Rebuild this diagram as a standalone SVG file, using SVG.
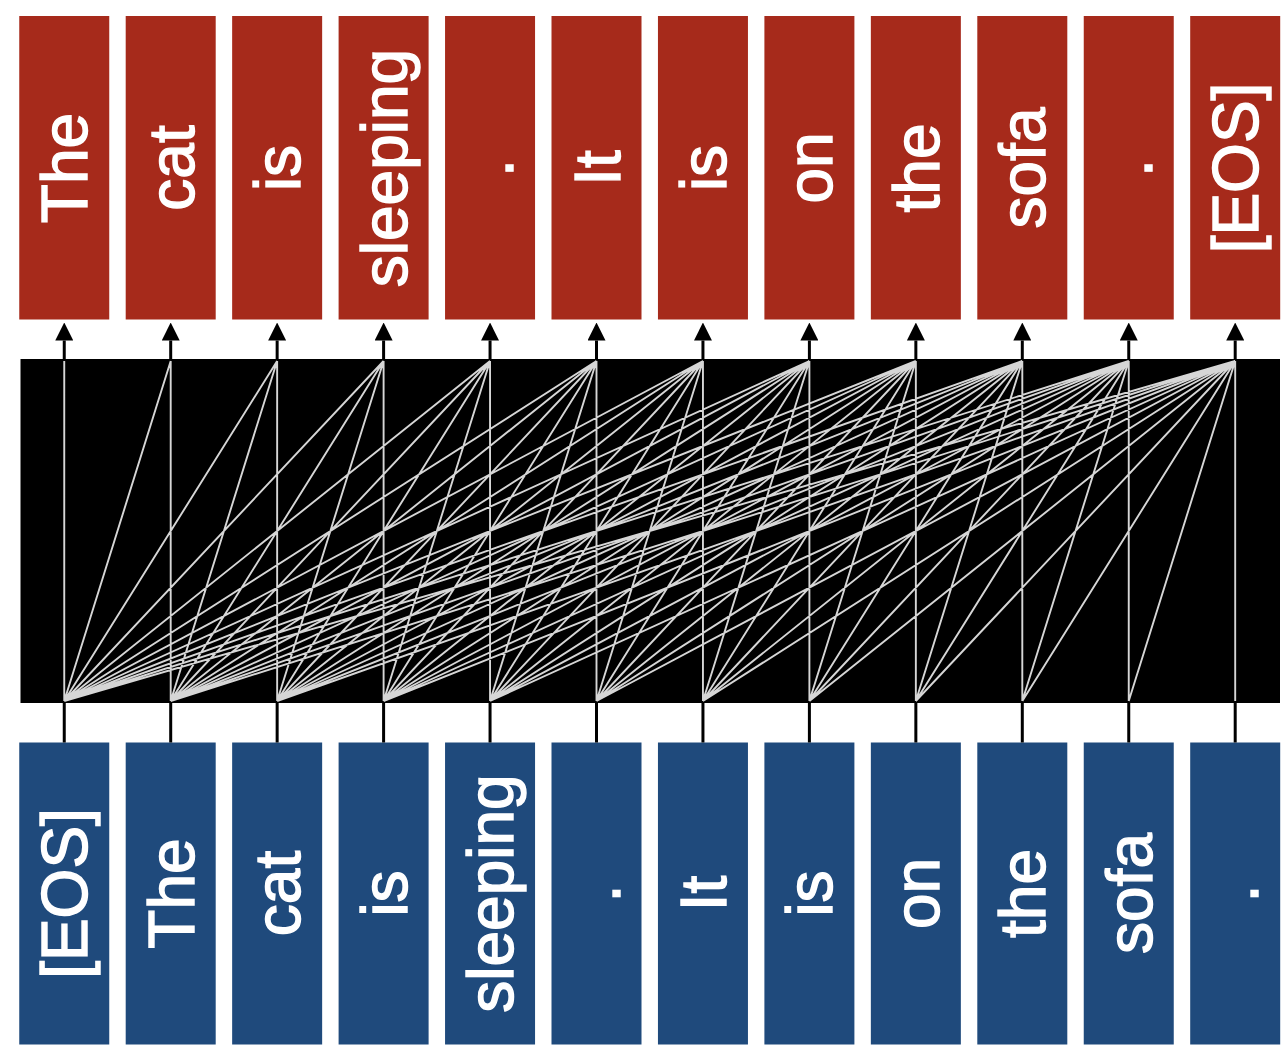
<svg xmlns="http://www.w3.org/2000/svg" width="1288" height="1053" viewBox="0 0 1288 1053">
<style>
.out{fill:#a62a1b}
.in{fill:#1f4a7c}
.lbl{font-family:"Liberation Sans",Arial,Helvetica,sans-serif;font-size:64px;fill:#ffffff;stroke:#ffffff;stroke-width:1.4;text-anchor:middle}
.att{stroke:#d6d6d6;stroke-width:1.9;fill:none}
.stub{stroke:#000000;stroke-width:3;fill:none}
.arr{stroke:#000000;stroke-width:3;fill:none;marker-end:url(#ah)}
</style>
<defs>
<marker id="ah" markerUnits="userSpaceOnUse" markerWidth="18" markerHeight="18" viewBox="0 0 18 18" refX="0" refY="9" orient="auto">
<path d="M0,0 L18,9 L0,18 Z" fill="#000000"/>
</marker>
</defs>
<rect width="1288" height="1053" fill="#ffffff"/>

<g id="outputs">
<g id="out0"><rect class="out" x="19.25" y="16" width="90" height="303.5"/><text class="lbl" transform="translate(87.25,168) rotate(-90)">The</text></g>
<g id="out1"><rect class="out" x="125.7" y="16" width="90" height="303.5"/><text class="lbl" transform="translate(193.7,168) rotate(-90)">cat</text></g>
<g id="out2"><rect class="out" x="232.15" y="16" width="90" height="303.5"/><text class="lbl" transform="translate(300.15,168) rotate(-90)">is</text></g>
<g id="out3"><rect class="out" x="338.6" y="16" width="90" height="303.5"/><text class="lbl" transform="translate(406.6,168) rotate(-90)">sleeping</text></g>
<g id="out4"><rect class="out" x="445.05" y="16" width="90" height="303.5"/><text class="lbl" transform="translate(513.05,168) rotate(-90)">.</text></g>
<g id="out5"><rect class="out" x="551.5" y="16" width="90" height="303.5"/><text class="lbl" transform="translate(619.5,168) rotate(-90)">It</text></g>
<g id="out6"><rect class="out" x="657.95" y="16" width="90" height="303.5"/><text class="lbl" transform="translate(725.95,168) rotate(-90)">is</text></g>
<g id="out7"><rect class="out" x="764.4" y="16" width="90" height="303.5"/><text class="lbl" transform="translate(832.4,168) rotate(-90)">on</text></g>
<g id="out8"><rect class="out" x="870.85" y="16" width="90" height="303.5"/><text class="lbl" transform="translate(938.85,168) rotate(-90)">the</text></g>
<g id="out9"><rect class="out" x="977.3" y="16" width="90" height="303.5"/><text class="lbl" transform="translate(1045.3,168) rotate(-90)">sofa</text></g>
<g id="out10"><rect class="out" x="1083.75" y="16" width="90" height="303.5"/><text class="lbl" transform="translate(1151.75,168) rotate(-90)">.</text></g>
<g id="out11"><rect class="out" x="1190.2" y="16" width="90" height="303.5"/><text class="lbl" transform="translate(1258.2,168) rotate(-90)">[EOS]</text></g>
</g>

<g id="inputs">
<g id="in0"><rect class="in" x="19.25" y="742.5" width="90" height="302"/><text class="lbl" transform="translate(87.25,893.5) rotate(-90)">[EOS]</text></g>
<g id="in1"><rect class="in" x="125.7" y="742.5" width="90" height="302"/><text class="lbl" transform="translate(193.7,893.5) rotate(-90)">The</text></g>
<g id="in2"><rect class="in" x="232.15" y="742.5" width="90" height="302"/><text class="lbl" transform="translate(300.15,893.5) rotate(-90)">cat</text></g>
<g id="in3"><rect class="in" x="338.6" y="742.5" width="90" height="302"/><text class="lbl" transform="translate(406.6,893.5) rotate(-90)">is</text></g>
<g id="in4"><rect class="in" x="445.05" y="742.5" width="90" height="302"/><text class="lbl" transform="translate(513.05,893.5) rotate(-90)">sleeping</text></g>
<g id="in5"><rect class="in" x="551.5" y="742.5" width="90" height="302"/><text class="lbl" transform="translate(619.5,893.5) rotate(-90)">.</text></g>
<g id="in6"><rect class="in" x="657.95" y="742.5" width="90" height="302"/><text class="lbl" transform="translate(725.95,893.5) rotate(-90)">It</text></g>
<g id="in7"><rect class="in" x="764.4" y="742.5" width="90" height="302"/><text class="lbl" transform="translate(832.4,893.5) rotate(-90)">is</text></g>
<g id="in8"><rect class="in" x="870.85" y="742.5" width="90" height="302"/><text class="lbl" transform="translate(938.85,893.5) rotate(-90)">on</text></g>
<g id="in9"><rect class="in" x="977.3" y="742.5" width="90" height="302"/><text class="lbl" transform="translate(1045.3,893.5) rotate(-90)">the</text></g>
<g id="in10"><rect class="in" x="1083.75" y="742.5" width="90" height="302"/><text class="lbl" transform="translate(1151.75,893.5) rotate(-90)">sofa</text></g>
<g id="in11"><rect class="in" x="1190.2" y="742.5" width="90" height="302"/><text class="lbl" transform="translate(1258.2,893.5) rotate(-90)">.</text></g>
</g>

<g id="block"><rect x="20.5" y="359" width="1259.5" height="344" fill="#000000"/></g>

<g id="connectors">
<path class="stub" d="M64.25,742.5V703 M170.7,742.5V703 M277.15,742.5V703 M383.6,742.5V703 M490.05,742.5V703 M596.5,742.5V703 M702.95,742.5V703 M809.4,742.5V703 M915.85,742.5V703 M1022.3,742.5V703 M1128.75,742.5V703 M1235.2,742.5V703"/>
<line class="arr" x1="64.25" y1="359.5" x2="64.25" y2="340.5"/>
<line class="arr" x1="170.7" y1="359.5" x2="170.7" y2="340.5"/>
<line class="arr" x1="277.15" y1="359.5" x2="277.15" y2="340.5"/>
<line class="arr" x1="383.6" y1="359.5" x2="383.6" y2="340.5"/>
<line class="arr" x1="490.05" y1="359.5" x2="490.05" y2="340.5"/>
<line class="arr" x1="596.5" y1="359.5" x2="596.5" y2="340.5"/>
<line class="arr" x1="702.95" y1="359.5" x2="702.95" y2="340.5"/>
<line class="arr" x1="809.4" y1="359.5" x2="809.4" y2="340.5"/>
<line class="arr" x1="915.85" y1="359.5" x2="915.85" y2="340.5"/>
<line class="arr" x1="1022.3" y1="359.5" x2="1022.3" y2="340.5"/>
<line class="arr" x1="1128.75" y1="359.5" x2="1128.75" y2="340.5"/>
<line class="arr" x1="1235.2" y1="359.5" x2="1235.2" y2="340.5"/>
<path class="att" d="M64.25,701L64.25,361M64.25,701L170.7,361M64.25,701L277.15,361M64.25,701L383.6,361M64.25,701L490.05,361M64.25,701L596.5,361M64.25,701L702.95,361M64.25,701L809.4,361M64.25,701L915.85,361M64.25,701L1022.3,361M64.25,701L1128.75,361M64.25,701L1235.2,361
M170.7,701L170.7,361M170.7,701L277.15,361M170.7,701L383.6,361M170.7,701L490.05,361M170.7,701L596.5,361M170.7,701L702.95,361M170.7,701L809.4,361M170.7,701L915.85,361M170.7,701L1022.3,361M170.7,701L1128.75,361M170.7,701L1235.2,361
M277.15,701L277.15,361M277.15,701L383.6,361M277.15,701L490.05,361M277.15,701L596.5,361M277.15,701L702.95,361M277.15,701L809.4,361M277.15,701L915.85,361M277.15,701L1022.3,361M277.15,701L1128.75,361M277.15,701L1235.2,361
M383.6,701L383.6,361M383.6,701L490.05,361M383.6,701L596.5,361M383.6,701L702.95,361M383.6,701L809.4,361M383.6,701L915.85,361M383.6,701L1022.3,361M383.6,701L1128.75,361M383.6,701L1235.2,361
M490.05,701L490.05,361M490.05,701L596.5,361M490.05,701L702.95,361M490.05,701L809.4,361M490.05,701L915.85,361M490.05,701L1022.3,361M490.05,701L1128.75,361M490.05,701L1235.2,361
M596.5,701L596.5,361M596.5,701L702.95,361M596.5,701L809.4,361M596.5,701L915.85,361M596.5,701L1022.3,361M596.5,701L1128.75,361M596.5,701L1235.2,361
M702.95,701L702.95,361M702.95,701L809.4,361M702.95,701L915.85,361M702.95,701L1022.3,361M702.95,701L1128.75,361M702.95,701L1235.2,361
M809.4,701L809.4,361M809.4,701L915.85,361M809.4,701L1022.3,361M809.4,701L1128.75,361M809.4,701L1235.2,361
M915.85,701L915.85,361M915.85,701L1022.3,361M915.85,701L1128.75,361M915.85,701L1235.2,361
M1022.3,701L1022.3,361M1022.3,701L1128.75,361M1022.3,701L1235.2,361
M1128.75,701L1128.75,361M1128.75,701L1235.2,361
M1235.2,701L1235.2,361"/>
</g>
</svg>
